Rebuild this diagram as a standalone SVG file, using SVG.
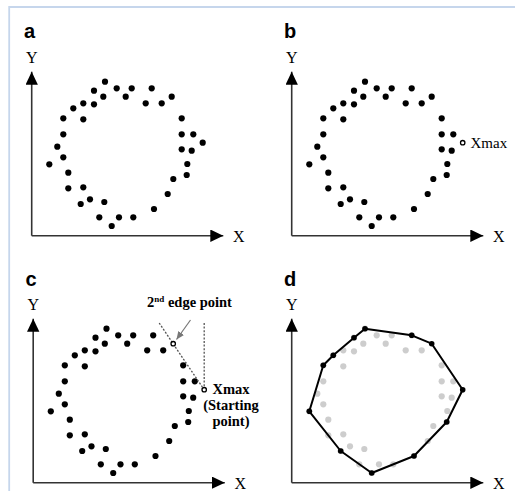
<svg xmlns="http://www.w3.org/2000/svg" xmlns:xlink="http://www.w3.org/1999/xlink" width="515" height="491" viewBox="0 0 515 491">
<style>
.lbl{font-family:"Liberation Sans",Arial,sans-serif;font-weight:bold;font-size:20px;fill:#000}
.ax{font-family:"Liberation Serif","Times New Roman",serif;font-size:16px;fill:#000}
.ann{font-family:"Liberation Serif","Times New Roman",serif;font-size:15px;fill:#000}
.annb{font-family:"Liberation Serif","Times New Roman",serif;font-size:14.5px;font-weight:bold;fill:#000}
.axis{stroke:#333;stroke-width:1.6;fill:none;marker-end:url(#ah)}
.open{fill:#fff;stroke:#000;stroke-width:1.3}
.dash{stroke:#555;stroke-width:1.3;stroke-dasharray:2 1.6;fill:none}
.frame{stroke:#c6d6ec;stroke-width:1.8;fill:none}
</style>
<defs>
<marker id="ah" markerUnits="userSpaceOnUse" markerWidth="14" markerHeight="13" refX="13" refY="6.2" orient="auto" viewBox="0 0 14 13"><path d="M0,0 L13,6.2 L0,12.4 z" fill="#000"/></marker>
<marker id="gh" markerUnits="userSpaceOnUse" markerWidth="9" markerHeight="8" refX="8" refY="3.5" orient="auto" viewBox="0 0 9 8"><path d="M0,0 L8,3.5 L0,7 z" fill="#777"/></marker>
<g id="axes">
<path class="axis" d="M31.7,235.7 V71.7"/>
<path class="axis" d="M31.7,235.7 H223.3"/>
<text class="ax" x="31.7" y="63" text-anchor="middle">Y</text>
<text class="ax" x="233" y="241.5">X</text>
</g>
<g id="pts">
<circle cx="105" cy="81.7" r="3.1"/><circle cx="94" cy="90.7" r="3.1"/><circle cx="116.7" cy="88.3" r="3.1"/><circle cx="131.7" cy="88.3" r="3.1"/><circle cx="151.7" cy="88.3" r="3.1"/>
<circle cx="103.3" cy="96.7" r="3.1"/><circle cx="125.7" cy="96.7" r="3.1"/><circle cx="83.3" cy="103.3" r="3.1"/><circle cx="94" cy="104.3" r="3.1"/><circle cx="73.3" cy="108.3" r="3.1"/>
<circle cx="145.7" cy="103.3" r="3.1"/><circle cx="161.7" cy="103.3" r="3.1"/><circle cx="63.3" cy="118.3" r="3.1"/><circle cx="83.3" cy="119.3" r="3.1"/><circle cx="181.7" cy="118.3" r="3.1"/>
<circle cx="63.3" cy="134.3" r="3.1"/><circle cx="181.7" cy="134.3" r="3.1"/><circle cx="193.3" cy="134.3" r="3.1"/><circle cx="57.3" cy="146.7" r="3.1"/><circle cx="63.3" cy="157.3" r="3.1"/>
<circle cx="181.7" cy="149.3" r="3.1"/><circle cx="191.7" cy="150.7" r="3.1"/><circle cx="49.3" cy="164.3" r="3.1"/><circle cx="187.3" cy="164" r="3.1"/><circle cx="68.3" cy="172.7" r="3.1"/>
<circle cx="186.7" cy="175" r="3.1"/><circle cx="173.3" cy="179" r="3.1"/><circle cx="68.3" cy="188.3" r="3.1"/><circle cx="83.3" cy="187.3" r="3.1"/><circle cx="167.7" cy="194" r="3.1"/>
<circle cx="80.7" cy="204" r="3.1"/><circle cx="90" cy="199.3" r="3.1"/><circle cx="104.3" cy="202" r="3.1"/><circle cx="154" cy="209" r="3.1"/><circle cx="99.3" cy="217.3" r="3.1"/>
<circle cx="119" cy="217.3" r="3.1"/><circle cx="133.3" cy="217.3" r="3.1"/><circle cx="111.7" cy="226" r="3.1"/>
</g>
</defs>

<g id="frame">
<path class="frame" d="M9.2,491 V7 H515"/>
</g>

<g id="panel-a">
<text class="lbl" x="24" y="37.5">a</text>
<use xlink:href="#axes"/>
<use xlink:href="#pts" fill="#000"/>
<circle cx="171.7" cy="96.7" r="3.1"/>
<circle cx="202.7" cy="142.7" r="3.1"/>
</g>

<g id="panel-b">
<g transform="translate(260,0)">
<text class="lbl" x="24" y="37.5">b</text>
<use xlink:href="#axes"/>
<use xlink:href="#pts" fill="#000"/>
<circle cx="171.7" cy="96.7" r="3.1"/>
<circle class="open" cx="202.7" cy="142.7" r="2.2"/>
</g>
<text class="ann" x="470.5" y="147.5">Xmax</text>
</g>

<g id="panel-c">
<g transform="translate(1.5,247)">
<text class="lbl" x="24" y="38.5">c</text>
<use xlink:href="#axes"/>
<use xlink:href="#pts" fill="#000"/>
</g>
<g id="connectors">
<path class="dash" d="M159.2,323 L202.4,387.2"/>
<path class="dash" d="M204.2,323 V387"/>
<path d="M190.5,320 L176.5,339.5" stroke="#777" stroke-width="1.2" fill="none" marker-end="url(#gh)"/>
</g>
<circle class="open" cx="173.2" cy="343.7" r="2.2"/>
<circle class="open" cx="204.2" cy="389.7" r="2.2"/>
<text class="annb" x="147" y="307">2<tspan font-size="9" dy="-5">nd</tspan><tspan dy="5"> edge point</tspan></text>
<text class="annb" x="231" y="394" text-anchor="middle">Xmax</text>
<text class="annb" x="231" y="410" text-anchor="middle">(Starting</text>
<text class="annb" x="231" y="426" text-anchor="middle">point)</text>
</g>

<g id="panel-d" transform="translate(260,247)">
<text class="lbl" x="24" y="38.5">d</text>
<use xlink:href="#axes"/>
<use xlink:href="#pts" fill="#cdcdcd"/>
<polygon points="105,81.7 151.7,88.3 171.7,96.7 202.7,142.7 186.7,175 154,209 111.7,226 80.7,204 49.3,164.3 63.3,118.3 73.3,108.3 94,90.7" fill="none" stroke="#000" stroke-width="2" stroke-linejoin="round"/>
<g fill="#000">
<circle cx="105" cy="81.7" r="2.8"/><circle cx="151.7" cy="88.3" r="2.8"/><circle cx="171.7" cy="96.7" r="2.8"/><circle cx="202.7" cy="142.7" r="2.8"/>
<circle cx="186.7" cy="175" r="2.8"/><circle cx="154" cy="209" r="2.8"/><circle cx="111.7" cy="226" r="2.8"/><circle cx="80.7" cy="204" r="2.8"/>
<circle cx="49.3" cy="164.3" r="2.8"/><circle cx="63.3" cy="118.3" r="2.8"/><circle cx="73.3" cy="108.3" r="2.8"/><circle cx="94" cy="90.7" r="2.8"/>
</g>
</g>
</svg>
